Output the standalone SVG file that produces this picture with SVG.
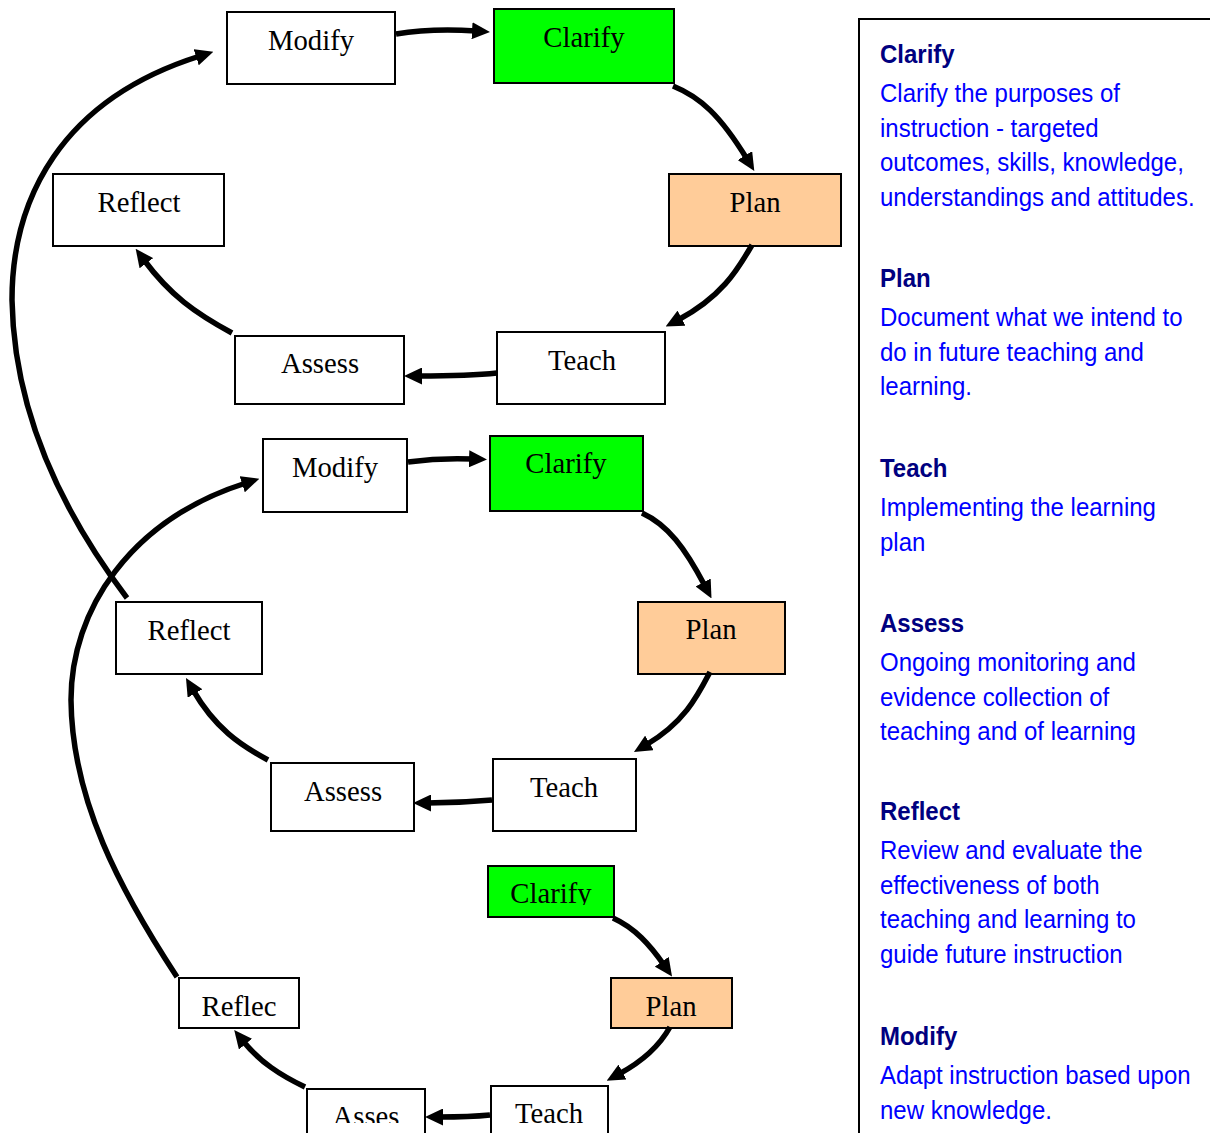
<svg xmlns="http://www.w3.org/2000/svg" width="1210" height="1133" viewBox="0 0 1210 1133">
<style>
.box{stroke:#000;stroke-width:2;fill:#fff}
.green{fill:#00ff00}
.orange{fill:#ffcc99}
.lbl{font-family:"Liberation Serif","Times New Roman",serif;font-size:28.7px;fill:#000;text-anchor:middle}
.conn path{fill:none;stroke:#000;stroke-width:5.5}
.ttl{font-family:"Liberation Sans",Arial,sans-serif;font-size:26.5px;font-weight:bold;fill:#000080}
.body{font-family:"Liberation Sans",Arial,sans-serif;font-size:26.5px;fill:#0000ff}
</style>
<defs>
<marker id="ah" markerUnits="userSpaceOnUse" markerWidth="18" markerHeight="17" viewBox="0 0 18 17" refX="4" refY="8.5" orient="auto">
<path d="M0,0 L18,8.5 L0,17 z" fill="#000"/>
</marker>
<clipPath id="cClar3"><rect x="488" y="866" width="126" height="39"/></clipPath>
<clipPath id="cTeach3"><rect x="491" y="1086" width="117" height="39"/></clipPath>
<clipPath id="cAss3"><rect x="307" y="1089" width="118" height="34"/></clipPath>
</defs>
<rect width="1210" height="1133" fill="#fff"/>

<!-- Top cycle -->
<g id="modify1"><rect class="box" x="227" y="12" width="168" height="72"/><text class="lbl" x="311" y="50">Modify</text></g>
<g id="clarify1"><rect class="box green" x="494" y="9" width="180" height="74"/><text class="lbl" x="584" y="47">Clarify</text></g>
<g id="plan1"><rect class="box orange" x="669" y="174" width="172" height="72"/><text class="lbl" x="755" y="212">Plan</text></g>
<g id="teach1"><rect class="box" x="497" y="332" width="168" height="72"/><text class="lbl" x="582" y="370">Teach</text></g>
<g id="assess1"><rect class="box" x="235" y="336" width="169" height="68"/><text class="lbl" x="320" y="373">Assess</text></g>
<g id="reflect1"><rect class="box" x="53" y="174" width="171" height="72"/><text class="lbl" x="139" y="212">Reflect</text></g>

<!-- Middle cycle -->
<g id="modify2"><rect class="box" x="263" y="439" width="144" height="73"/><text class="lbl" x="335" y="477">Modify</text></g>
<g id="clarify2"><rect class="box green" x="490" y="436" width="153" height="75"/><text class="lbl" x="566" y="473">Clarify</text></g>
<g id="plan2"><rect class="box orange" x="638" y="602" width="147" height="72"/><text class="lbl" x="711" y="639">Plan</text></g>
<g id="teach2"><rect class="box" x="493" y="759" width="143" height="72"/><text class="lbl" x="564" y="797">Teach</text></g>
<g id="assess2"><rect class="box" x="271" y="763" width="143" height="68"/><text class="lbl" x="343" y="801">Assess</text></g>
<g id="reflect2"><rect class="box" x="116" y="602" width="146" height="72"/><text class="lbl" x="189" y="640">Reflect</text></g>

<!-- Bottom cycle -->
<g id="clarify3"><rect class="box green" x="488" y="866" width="126" height="51"/><text class="lbl" x="551" y="903" clip-path="url(#cClar3)">Clarify</text></g>
<g id="plan3"><rect class="box orange" x="611" y="978" width="121" height="50"/><text class="lbl" x="671" y="1016">Plan</text></g>
<g id="teach3"><rect class="box" x="491" y="1086" width="117" height="60"/><text class="lbl" x="549" y="1123" clip-path="url(#cTeach3)">Teach</text></g>
<g id="assess3"><rect class="box" x="307" y="1089" width="118" height="60"/><text class="lbl" x="366" y="1126" clip-path="url(#cAss3)">Asses</text></g>
<g id="reflect3"><rect class="box" x="179" y="978" width="120" height="50"/><text class="lbl" x="239" y="1016">Reflec</text></g>

<!-- Connectors -->
<g id="connectors" class="conn">
<path d="M396,34 C420,30 445,29 476,31" marker-end="url(#ah)"/>
<path d="M673,86 C700,97 720,115 747,159" marker-end="url(#ah)"/>
<path d="M752,245 C740,265 725,295 678,320" marker-end="url(#ah)"/>
<path d="M497,373 C470,376 445,376 418,376" marker-end="url(#ah)"/>
<path d="M232,333 C195,313 170,295 144,260" marker-end="url(#ah)"/>
<path d="M127,598 C68,520 14,420 12,300 C12,200 60,100 200,56" marker-end="url(#ah)"/>

<path d="M408,462 C430,459 450,458 473,459" marker-end="url(#ah)"/>
<path d="M642,513 C668,525 685,548 705,586" marker-end="url(#ah)"/>
<path d="M710,672 C698,695 685,722 646,745" marker-end="url(#ah)"/>
<path d="M492,800 C470,802 450,803 427,803" marker-end="url(#ah)"/>
<path d="M268,760 C240,745 215,728 193,690" marker-end="url(#ah)"/>
<path d="M177,977 C120,890 72,800 71,700 C71,610 130,520 246,483" marker-end="url(#ah)"/>

<path d="M613,918 C635,928 650,945 664,965" marker-end="url(#ah)"/>
<path d="M670,1027 C660,1045 645,1060 619,1074" marker-end="url(#ah)"/>
<path d="M490,1115 C470,1117 455,1117 439,1117" marker-end="url(#ah)"/>
<path d="M305,1087 C280,1075 260,1062 243,1041" marker-end="url(#ah)"/>
</g>

<!-- Legend panel -->
<g id="legend">
<rect x="859" y="19" width="400" height="1200" fill="#fff" stroke="#000" stroke-width="2"/>
<g transform="translate(880 0) scale(0.905 1)">
<text class="ttl" x="0" y="63">Clarify</text>
<text class="body" x="0" y="102.5">Clarify the purposes of</text>
<text class="body" x="0" y="137">instruction - targeted</text>
<text class="body" x="0" y="171.5">outcomes, skills, knowledge,</text>
<text class="body" x="0" y="206">understandings and attitudes.</text>

<text class="ttl" x="0" y="287">Plan</text>
<text class="body" x="0" y="326.5">Document what we intend to</text>
<text class="body" x="0" y="361">do in future teaching and</text>
<text class="body" x="0" y="395.5">learning.</text>

<text class="ttl" x="0" y="477">Teach</text>
<text class="body" x="0" y="516.5">Implementing the learning</text>
<text class="body" x="0" y="551">plan</text>

<text class="ttl" x="0" y="632">Assess</text>
<text class="body" x="0" y="671.5">Ongoing monitoring and</text>
<text class="body" x="0" y="706">evidence collection of</text>
<text class="body" x="0" y="740.5">teaching and of learning</text>

<text class="ttl" x="0" y="820">Reflect</text>
<text class="body" x="0" y="859.5">Review and evaluate the</text>
<text class="body" x="0" y="894">effectiveness of both</text>
<text class="body" x="0" y="928.5">teaching and learning to</text>
<text class="body" x="0" y="963">guide future instruction</text>

<text class="ttl" x="0" y="1045">Modify</text>
<text class="body" x="0" y="1084.5">Adapt instruction based upon</text>
<text class="body" x="0" y="1119">new knowledge.</text>
</g>
</g>
</svg>
